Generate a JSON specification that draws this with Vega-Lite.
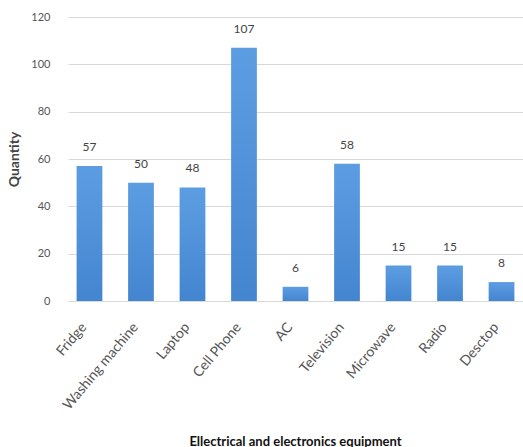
{
  "$schema": "https://vega.github.io/schema/vega-lite/v6.json",
  "width": 455,
  "height": 284,
  "autosize": {"type": "none"},
  "padding": {"left": 68, "top": 17, "right": 0, "bottom": 146},
  "background": "white",
  "data": {
    "values": [
      {"item": "Fridge", "qty": 57},
      {"item": "Washing machine", "qty": 50},
      {"item": "Laptop", "qty": 48},
      {"item": "Cell Phone", "qty": 107},
      {"item": "AC", "qty": 6},
      {"item": "Television", "qty": 58},
      {"item": "Microwave", "qty": 15},
      {"item": "Radio", "qty": 15},
      {"item": "Desctop", "qty": 8}
    ]
  },
  "encoding": {
    "x": {
      "field": "item",
      "type": "nominal",
      "sort": null,
      "scale": {"paddingInner": 0.5, "paddingOuter": 0.167},
      "axis": {
        "title": "Ellectrical and electronics equipment",
        "titleFont": "Lato",
        "titleFontSize": 13,
        "titleFontWeight": "bold",
        "titleColor": "#111111",
        "titleY": 140,
        "titleX": 227,
        "titleBaseline": "middle",
        "labelAngle": -50,
        "labelAlign": "right",
        "labelBaseline": "bottom",
        "labelFont": "Lato",
        "labelFontSize": 14,
        "labelColor": "#555555",
        "labelPadding": 28,
        "ticks": false,
        "domainColor": "#d9d9d9",
        "grid": false
      }
    },
    "y": {
      "field": "qty",
      "type": "quantitative",
      "scale": {"domain": [0, 120], "nice": false},
      "axis": {
        "title": "Quantity",
        "titleFont": "Lato",
        "titleFontSize": 14,
        "titleFontWeight": "bold",
        "titleColor": "#444444",
        "titleX": -47,
        "values": [0, 20, 40, 60, 80, 100, 120],
        "labelFont": "Lato",
        "labelFontSize": 11,
        "labelColor": "#555555",
        "labelPadding": 18,
        "ticks": false,
        "domain": false,
        "grid": true,
        "gridColor": "#d9d9d9"
      }
    }
  },
  "layer": [
    {
      "mark": {
        "type": "bar",
        "color": {
          "gradient": "linear",
          "x1": 0, "y1": 0, "x2": 0, "y2": 1,
          "stops": [
            {"offset": 0, "color": "#5c9de2"},
            {"offset": 1, "color": "#4485d0"}
          ]
        }
      }
    },
    {
      "mark": {
        "type": "text",
        "baseline": "middle",
        "dy": -19,
        "font": "Lato",
        "fontSize": 12,
        "color": "#444444"
      },
      "encoding": {"text": {"field": "qty", "type": "quantitative"}}
    }
  ],
  "config": {"view": {"stroke": null}}
}
